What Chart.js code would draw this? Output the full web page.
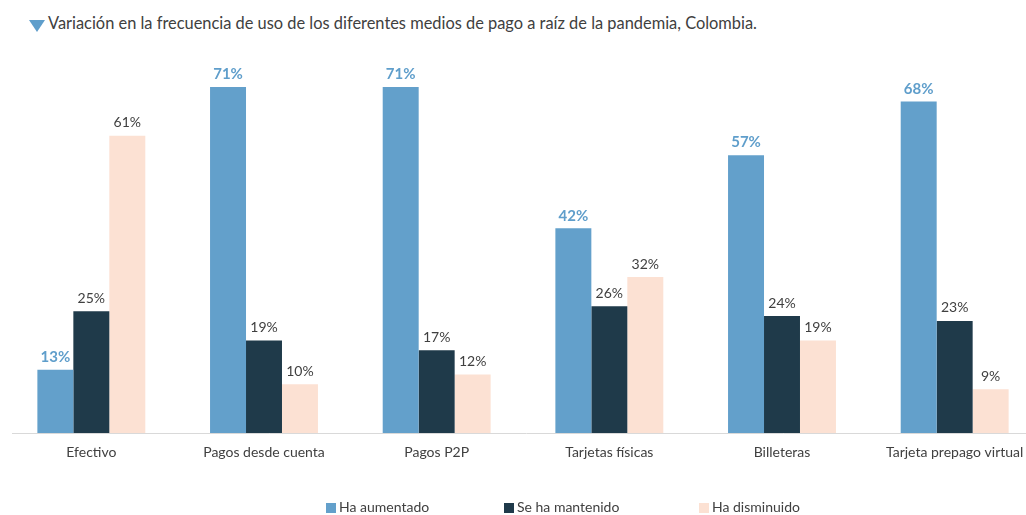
<!DOCTYPE html>
<html lang="es">
<head>
<meta charset="utf-8">
<script src="https://cdn.jsdelivr.net/npm/chart.js@4.4.1/dist/chart.umd.min.js"></script>
<style>
  html, body { margin: 0; padding: 0; background: #ffffff; }
  body { width: 1026px; height: 515px; overflow: hidden; position: relative; font-family: Lato, "Open Sans", sans-serif; }
  #tri { position: absolute; left: 29px; top: 20px; width: 0; height: 0;
         border-left: 8.5px solid transparent; border-right: 8.5px solid transparent; border-top: 12px solid #5f9ecb; }
  #title { position: absolute; left: 48px; top: 13px; font-size: 16.4px; color: #404040; white-space: nowrap; }
  #wrap { position: absolute; left: 0; top: 0; width: 1046px; height: 515px; }
  #legend { position: absolute; top: 498px; left: 0; width: 1026px; height: 18px; font-size: 14px; color: #404040; }
  #legend .item { position: absolute; top: 0; white-space: nowrap; line-height: 18px; }
  #legend .box { display: inline-block; width: 10px; height: 10px; margin-right: 3px; vertical-align: -1px; }
</style>
</head>
<body>
<div id="tri"></div>
<div id="title">Variación en la frecuencia de uso de los diferentes medios de pago a raíz de la pandemia, Colombia.</div>
<div id="wrap"><canvas id="c" width="1046" height="515"></canvas></div>
<div id="legend"></div>
<script>
// Payment methods and the share (%) reporting each change in usage
const categories = ['Efectivo', 'Pagos desde cuenta', 'Pagos P2P', 'Tarjetas físicas', 'Billeteras', 'Tarjeta prepago virtual'];
const seriesNames = ['Ha aumentado', 'Se ha mantenido', 'Ha disminuido'];
const aumentado = [13, 71, 71, 42, 57, 68];
const mantenido = [25, 19, 17, 26, 24, 23];
const disminuido = [61, 10, 12, 32, 19, 9];

const barColors = ['#63a0cb', '#1f3a4a', '#fce1d3'];
const labelColors = ['#5f9ecb', '#404040', '#404040'];
const legendX = [326, 504, 699];

// Draws the percentage above every bar
const valueLabels = {
  id: 'valueLabels',
  afterDatasetsDraw(chart) {
    const ctx = chart.ctx;
    ctx.save();
    ctx.textAlign = 'center';
    ctx.textBaseline = 'bottom';
    chart.data.datasets.forEach((ds, di) => {
      const meta = chart.getDatasetMeta(di);
      const bold = di === 0;
      ctx.font = (bold ? 'bold 15px ' : '14px ') + 'Lato, "Open Sans", sans-serif';
      ctx.fillStyle = labelColors[di];
      meta.data.forEach((bar, i) => {
        ctx.fillText(ds.data[i] + '%', bar.x, bar.y - (bold ? 5 : 6));
      });
    });
    ctx.restore();
  }
};

// Baseline under the bars
const baseline = {
  id: 'baseline',
  beforeDatasetsDraw(chart) {
    const { ctx, chartArea } = chart;
    ctx.save();
    ctx.strokeStyle = '#d9d9d9';
    ctx.lineWidth = 1;
    ctx.beginPath();
    ctx.moveTo(12, chartArea.bottom + 0.5);
    ctx.lineTo(chartArea.right, chartArea.bottom + 0.5);
    ctx.stroke();
    ctx.restore();
  }
};

const chart = new Chart(document.getElementById('c'), {
  type: 'bar',
  data: {
    labels: categories,
    datasets: [aumentado, mantenido, disminuido].map((d, i) => ({
      label: seriesNames[i],
      data: d,
      backgroundColor: barColors[i],
      borderWidth: 0,
      barPercentage: 1,
      categoryPercentage: 0.625
    }))
  },
  options: {
    responsive: false,
    animation: false,
    layout: { padding: { left: 5, right: 5, top: 43, bottom: 52 } },
    plugins: { legend: { display: false }, tooltip: { enabled: false } },
    scales: {
      x: {
        grid: { display: false, drawTicks: false },
        border: { display: false },
        ticks: { padding: 11, color: '#404040', font: { family: 'Lato, "Open Sans", sans-serif', size: 14 } },
        afterFit(scale) { scale.height = 30; }
      },
      y: {
        display: false,
        min: 0,
        max: 80
      }
    }
  },
  plugins: [baseline, valueLabels]
});

// Legend built from the datasets
const legend = document.getElementById('legend');
chart.data.datasets.forEach((ds, i) => {
  const item = document.createElement('span');
  item.className = 'item';
  item.style.left = legendX[i] + 'px';
  const box = document.createElement('span');
  box.className = 'box';
  box.style.background = ds.backgroundColor;
  item.appendChild(box);
  item.appendChild(document.createTextNode(ds.label));
  legend.appendChild(item);
});
</script>
</body>
</html>
